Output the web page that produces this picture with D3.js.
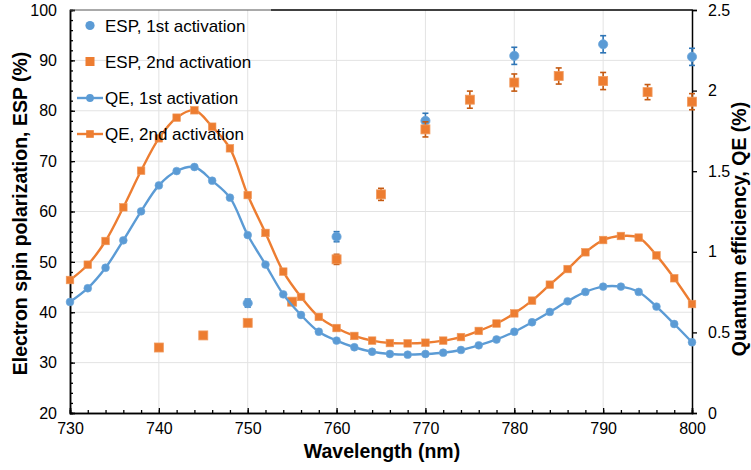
<!DOCTYPE html>
<html><head><meta charset="utf-8">
<script src="https://cdn.jsdelivr.net/npm/d3@7"></script>
<style>body{margin:0;background:#fff}svg{display:block}text{font-family:Arial,"Liberation Sans",sans-serif}</style>
</head><body><svg id="c" width="751" height="470"></svg>
<script>
// ---- data ----
const qeWavelengths = d3.range(730, 801, 2);
const qe1 = [0.689,0.774,0.901,1.071,1.251,1.412,1.501,1.526,1.441,1.336,1.104,0.921,0.736,0.608,0.504,0.449,0.408,0.380,0.366,0.362,0.366,0.374,0.391,0.420,0.456,0.504,0.563,0.627,0.693,0.751,0.784,0.784,0.751,0.660,0.552,0.439];
const qe2 = [0.825,0.920,1.067,1.276,1.503,1.704,1.832,1.878,1.776,1.642,1.352,1.117,0.877,0.720,0.596,0.527,0.478,0.449,0.434,0.432,0.436,0.449,0.471,0.509,0.555,0.618,0.697,0.796,0.893,0.997,1.073,1.098,1.088,0.978,0.836,0.676];
const esp1Wavelengths = [750,760,770,780,790,800];
const esp1 = [41.8,55.0,78.0,90.9,93.2,90.7];
const esp1Err = [0.8,1.0,1.5,1.7,1.7,1.7];
const esp2Wavelengths = [740,745,750,755,760,765,770,775,780,785,790,795,800];
const esp2 = [33.0,35.4,37.9,42.1,50.5,63.4,76.3,82.2,85.6,86.9,85.9,83.7,81.8];
const esp2Err = [0.5,0.5,0.6,0.6,1.0,1.2,1.5,1.7,1.7,1.6,1.7,1.5,1.6];
const xTicks = [730,740,750,760,770,780,790,800];
const yLeftTicks = [20,30,40,50,60,70,80,90,100];
const yRightTicks = [0,0.5,1,1.5,2,2.5];
const legendLabels = ["ESP, 1st activation","ESP, 2nd activation","QE, 1st activation","QE, 2nd activation"];

const BLUE = "#5b9bd5", ORANGE = "#ed7d31", BLUE_D = "#2e75b6", ORANGE_D = "#c55a11";
const L = 70, R = 692, T = 10, B = 413;
const svg = d3.select("#c");
const x = d3.scaleLinear([730, 800], [L, R]);
const yL = d3.scaleLinear([20, 100], [B, T]);
const yR = d3.scaleLinear([0, 2.5], [B, T]);

// gridlines
const grid = svg.append("g").attr("stroke", "#e3e3e3").attr("stroke-width", 1);
grid.selectAll(".gx").data(xTicks.slice(1, -1)).join("line")
  .attr("x1", d => x(d)).attr("x2", d => x(d)).attr("y1", T).attr("y2", B);
grid.selectAll(".gy").data(yLeftTicks.slice(1, -1)).join("line")
  .attr("y1", d => yL(d)).attr("y2", d => yL(d)).attr("x1", L).attr("x2", R);

// axes
const axB = svg.append("g").attr("transform", `translate(0,${B})`)
  .call(d3.axisBottom(x).tickValues(d3.range(730, 801, 2)).tickSize(-3).tickFormat(""));
axB.call(g => g.append("g").call(d3.axisBottom(x).tickValues(xTicks).tickSize(-5).tickPadding(10)));
const axL = svg.append("g").attr("transform", `translate(${L},0)`)
  .call(d3.axisLeft(yL).tickValues(d3.range(20, 101, 2)).tickSize(-3).tickFormat(""));
axL.call(g => g.append("g").call(d3.axisLeft(yL).tickValues(yLeftTicks).tickSize(-5).tickPadding(13)));
const axR = svg.append("g").attr("transform", `translate(${R},0)`)
  .call(d3.axisRight(yR).tickValues(yRightTicks).tickSize(5).tickFormat(d => d).tickPadding(11));
svg.selectAll(".domain").attr("stroke", "#000").attr("stroke-width", 1.5);
svg.selectAll(".tick line").attr("stroke", "#000").attr("stroke-width", 1.3);
svg.selectAll(".tick text").attr("font-size", 16).attr("fill", "#000")
  .attr("font-family", 'Arial,"Liberation Sans",sans-serif');
// top border
svg.append("line").attr("x1", L).attr("x2", 271).attr("y1", T).attr("y2", T).attr("stroke", "#555").attr("stroke-width", 1);
svg.append("line").attr("x1", 271).attr("x2", R + 0.75).attr("y1", T).attr("y2", T).attr("stroke", "#000").attr("stroke-width", 1.5);

// axis titles
svg.append("text").attr("transform", `translate(27,${(T + B) / 2 + 2}) rotate(-90)`)
  .attr("text-anchor", "middle").attr("font-size", 19.5).attr("font-weight", "bold")
  .text("Electron spin polarization, ESP (%)");
svg.append("text").attr("transform", `translate(746,229) rotate(-90)`)
  .attr("text-anchor", "middle").attr("font-size", 19.5).attr("font-weight", "bold")
  .text("Quantum efficiency, QE (%)");
svg.append("text").attr("x", (L + R) / 2 + 1).attr("y", 458)
  .attr("text-anchor", "middle").attr("font-size", 19.5).attr("font-weight", "bold")
  .text("Wavelength (nm)");

// ESP error bars + markers
function errBars(ws, vs, es, color) {
  const g = svg.append("g").attr("stroke", color).attr("stroke-width", 1.6);
  ws.forEach((w, i) => {
    const cx = x(w), y0 = yL(vs[i] - es[i]), y1 = yL(vs[i] + es[i]);
    g.append("line").attr("x1", cx).attr("x2", cx).attr("y1", y0).attr("y2", y1);
    g.append("line").attr("x1", cx - 3).attr("x2", cx + 3).attr("y1", y0).attr("y2", y0);
    g.append("line").attr("x1", cx - 3).attr("x2", cx + 3).attr("y1", y1).attr("y2", y1);
  });
}
errBars(esp1Wavelengths, esp1, esp1Err, BLUE_D);
svg.append("g").selectAll("circle").data(esp1Wavelengths).join("circle")
  .attr("cx", d => x(d)).attr("cy", (d, i) => yL(esp1[i])).attr("r", 4.6)
  .attr("fill", BLUE).attr("stroke", "#6fa7da").attr("stroke-width", 0.8);
errBars(esp2Wavelengths, esp2, esp2Err, ORANGE_D);
svg.append("g").selectAll("rect").data(esp2Wavelengths).join("rect")
  .attr("x", d => x(d) - 4.5).attr("y", (d, i) => yL(esp2[i]) - 4.5).attr("width", 9).attr("height", 9)
  .attr("fill", ORANGE).attr("stroke", "#f09a5e").attr("stroke-width", 0.8);

// QE lines
const line = d3.line().curve(d3.curveCatmullRom.alpha(0.5));
svg.append("path").attr("d", line(qeWavelengths.map((w, i) => [x(w), yR(qe1[i])])))
  .attr("fill", "none").attr("stroke", BLUE).attr("stroke-width", 2.4);
svg.append("g").selectAll("circle").data(qeWavelengths).join("circle")
  .attr("cx", d => x(d)).attr("cy", (d, i) => yR(qe1[i])).attr("r", 3.9)
  .attr("fill", BLUE).attr("stroke", "#6fa7da").attr("stroke-width", 0.6);
svg.append("path").attr("d", line(qeWavelengths.map((w, i) => [x(w), yR(qe2[i])])))
  .attr("fill", "none").attr("stroke", ORANGE).attr("stroke-width", 2.4);
svg.append("g").selectAll("rect").data(qeWavelengths).join("rect")
  .attr("x", d => x(d) - 3.8).attr("y", (d, i) => yR(qe2[i]) - 3.8).attr("width", 7.6).attr("height", 7.6)
  .attr("fill", ORANGE).attr("stroke", "#f09a5e").attr("stroke-width", 0.6);

// legend
const lg = svg.append("g");
const rowY = [25.5, 61.5, 98, 134];
lg.append("circle").attr("cx", 90).attr("cy", rowY[0]).attr("r", 4.6).attr("fill", BLUE);
lg.append("rect").attr("x", 85.5).attr("y", rowY[1] - 4.5).attr("width", 9).attr("height", 9).attr("fill", ORANGE);
lg.append("line").attr("x1", 77).attr("x2", 103).attr("y1", rowY[2]).attr("y2", rowY[2]).attr("stroke", BLUE).attr("stroke-width", 2.4);
lg.append("circle").attr("cx", 90).attr("cy", rowY[2]).attr("r", 3.9).attr("fill", BLUE);
lg.append("line").attr("x1", 77).attr("x2", 103).attr("y1", rowY[3]).attr("y2", rowY[3]).attr("stroke", ORANGE).attr("stroke-width", 2.4);
lg.append("rect").attr("x", 86.2).attr("y", rowY[3] - 3.8).attr("width", 7.6).attr("height", 7.6).attr("fill", ORANGE);
lg.selectAll("text").data(legendLabels).join("text")
  .attr("x", 105).attr("y", (d, i) => rowY[i] + 6).attr("font-size", 17).attr("fill", "#000").text(d => d);
</script></body></html>
